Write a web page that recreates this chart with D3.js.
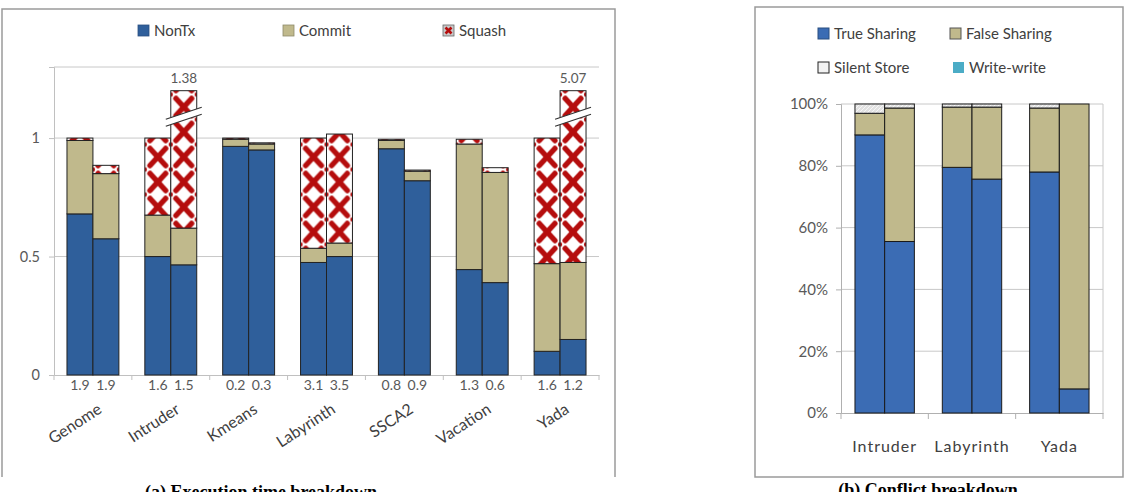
<!DOCTYPE html>
<html>
<head>
<meta charset="utf-8">
<script src="https://cdn.jsdelivr.net/npm/d3@7"></script>
<style>
  body { margin: 0; background: #fff; }
  svg { display: block; }
  text { font-family: Lato, "Open Sans", sans-serif; }
</style>
</head>
<body>
<svg id="chart" width="1125" height="492"></svg>
<script>
// ---- (a) execution time breakdown, two bars per benchmark ----
const benchA = ['Genome', 'Intruder', 'Kmeans', 'Labyrinth', 'SSCA2', 'Vacation', 'Yada'];
const nonTx  = [0.68, 0.575, 0.50, 0.465, 0.965, 0.95, 0.475, 0.50, 0.955, 0.82, 0.445, 0.39, 0.10, 0.15];
const commit = [0.31, 0.275, 0.175, 0.155, 0.03, 0.025, 0.06, 0.057, 0.035, 0.04, 0.53, 0.465, 0.37, 0.325];
const squash = [0.01, 0.035, 0.325, 0.76, 0.005, 0.005, 0.465, 0.46, 0.005, 0.005, 0.02, 0.02, 0.53, 4.595];
const barNums = ['1.9', '1.9', '1.6', '1.5', '0.2', '0.3', '3.1', '3.5', '0.8', '0.9', '1.3', '0.6', '1.6', '1.2'];
const ticksA = [0, 0.5, 1];
const seriesA = ['NonTx', 'Commit', 'Squash'];

// ---- (b) conflict breakdown ----
const benchB = ['Intruder', 'Labyrinth', 'Yada'];
const trueSh  = [0.90, 0.555, 0.795, 0.757, 0.78, 0.078];
const falseSh = [0.07, 0.432, 0.195, 0.233, 0.207, 0.922];
const silent  = [0.03, 0.013, 0.01, 0.01, 0.013, 0.0];
const wrwr    = [0, 0, 0, 0, 0, 0];
const ticksB = [0, 0.2, 0.4, 0.6, 0.8, 1];
const seriesB = ['True Sharing', 'False Sharing', 'Silent Store', 'Write-write'];

const blueA = '#2f5f9b', beige = '#c0b98c', red = '#b50d0d';
const blueB = '#3b6cb4', silentCol = '#e2e2e2', teal = '#4bacc6';

const svg = d3.select('#chart');
const defs = svg.append('defs');

// outer frames
svg.append('path')
  .attr('d', 'M2,477V9H615V477')
  .attr('fill', 'none').attr('stroke', '#9a9a9a').attr('stroke-width', 1.5);
svg.append('rect')
  .attr('x', 755).attr('y', 7).attr('width', 368).attr('height', 470)
  .attr('fill', 'none').attr('stroke', '#9a9a9a').attr('stroke-width', 1.5);

// ================= chart (a) =================
const xA = d3.scaleBand().domain(benchA).range([54, 599]).paddingInner(0).paddingOuter(0);
const yA = d3.scaleLinear().domain([0, 1.3]).range([375, 67]);
const cap = 1.2;
const barW = xA.bandwidth() / 3;

const gA = svg.append('g');
// plot top line and grid
gA.append('line').attr('x1', 54).attr('x2', 599).attr('y1', yA(1.3)).attr('y2', yA(1.3))
  .attr('stroke', '#c8c8c8');
gA.selectAll('.gridA').data(ticksA.filter(d => d > 0)).enter().append('line')
  .attr('x1', 54).attr('x2', 599)
  .attr('y1', d => yA(d)).attr('y2', d => yA(d))
  .attr('stroke', '#c8c8c8');

const axLeftA = gA.append('g').attr('transform', 'translate(54,0)')
  .call(d3.axisLeft(yA).tickValues(ticksA).tickFormat(d3.format('')).tickSize(5).tickPadding(9));
axLeftA.select('.domain').attr('stroke', '#c0c0c0');
axLeftA.selectAll('line').attr('stroke', '#c0c0c0');
axLeftA.selectAll('text').attr('fill', '#595959').style('font-size', '14.5px')
  .style('font-family', 'Lato, sans-serif');

const axBotA = gA.append('g').attr('transform', 'translate(0,375)')
  .call(d3.axisBottom(xA).tickSize(0).tickFormat(''));
axBotA.select('.domain').attr('stroke', '#c0c0c0');
gA.selectAll('.catTick').data(d3.range(benchA.length + 1)).enter().append('line')
  .attr('x1', i => 54 + i * xA.step()).attr('x2', i => 54 + i * xA.step())
  .attr('y1', 375).attr('y2', 380).attr('stroke', '#c0c0c0');

// bar records
const barsA = nonTx.map((v, i) => {
  const cat = benchA[Math.floor(i / 2)];
  const x = xA(cat) + barW / 2 + (i % 2) * barW;
  return { i, x, nonTx: v, commit: commit[i], squash: squash[i],
           total: v + commit[i] + squash[i], num: barNums[i] };
});

// squash patterns, one per bar so the crosses line up with each bar
barsA.forEach(b => {
  const p = defs.append('pattern').attr('id', 'sq' + b.i)
    .attr('patternUnits', 'userSpaceOnUse')
    .attr('x', b.x).attr('y', -5.5).attr('width', barW).attr('height', 25);
  p.append('rect').attr('width', barW).attr('height', 25).attr('fill', '#fff');
  p.append('path')
    .attr('d', `M${barW * 0.2},4L${barW * 0.8},21M${barW * 0.8},4L${barW * 0.2},21`)
    .attr('stroke', red).attr('stroke-width', 5.5).attr('stroke-linecap', 'round');
  p.append('circle').attr('cx', 0).attr('cy', 0).attr('r', 2.2).attr('fill', red);
  p.append('circle').attr('cx', barW).attr('cy', 0).attr('r', 2.2).attr('fill', red);
  p.append('circle').attr('cx', 0).attr('cy', 25).attr('r', 2.2).attr('fill', red);
  p.append('circle').attr('cx', barW).attr('cy', 25).attr('r', 2.2).attr('fill', red);
});

const clampA = v => Math.min(v, cap);
const segsA = [];
barsA.forEach(b => {
  const s0 = 0, s1 = b.nonTx, s2 = s1 + b.commit, s3 = b.total;
  segsA.push({ b, lo: s0, hi: s1, fill: blueA });
  segsA.push({ b, lo: s1, hi: s2, fill: beige });
  segsA.push({ b, lo: s2, hi: s3, fill: `url(#sq${b.i})` });
});
gA.selectAll('.segA').data(segsA).enter().append('rect')
  .attr('x', d => d.b.x)
  .attr('width', barW)
  .attr('y', d => yA(clampA(d.hi)))
  .attr('height', d => Math.max(0, yA(clampA(d.lo)) - yA(clampA(d.hi))))
  .attr('fill', d => d.fill)
  .attr('stroke', '#222')
  .attr('stroke-width', 1);

// break marks on truncated bars
const broken = barsA.filter(b => b.total > cap);
broken.forEach(b => {
  const yc = yA(1.09), x0 = b.x - 5, x1 = b.x + barW + 5, tilt = 6, th = 3.5;
  gA.append('path')
    .attr('d', `M${x0},${yc + tilt - th}L${x1},${yc - tilt - th}L${x1},${yc - tilt + th}L${x0},${yc + tilt + th}Z`)
    .attr('fill', '#fff');
  gA.append('path')
    .attr('d', `M${x0},${yc + tilt - th}L${x1},${yc - tilt - th}M${x0},${yc + tilt + th}L${x1},${yc - tilt + th}`)
    .attr('stroke', '#333').attr('stroke-width', 1.2).attr('fill', 'none');
});
gA.selectAll('.brokenLbl').data(broken).enter().append('text')
  .attr('x', d => d.x + barW / 2).attr('y', yA(cap) - 8)
  .attr('text-anchor', 'middle').attr('fill', '#595959').style('font-size', '13.5px')
  .text(d => d3.format('.2f')(d.total));

// numbers under bars
gA.selectAll('.numA').data(barsA).enter().append('text')
  .attr('x', d => d.x + barW / 2).attr('y', 390)
  .attr('text-anchor', 'middle').attr('fill', '#595959').style('font-size', '14px')
  .text(d => d.num);

// rotated benchmark names
gA.selectAll('.catA').data(benchA).enter().append('text')
  .attr('transform', d => `translate(${xA(d) + xA.bandwidth() / 2 + 10},412) rotate(-33)`)
  .attr('text-anchor', 'end').attr('fill', '#404040').style('font-size', '16px')
  .text(d => d);

// legend (a)
const legA = gA.selectAll('.legA').data(seriesA).enter().append('g')
  .attr('transform', (d, i) => `translate(${[138, 283, 443][i]},25)`);
legA.append('rect').attr('width', 11).attr('height', 11)
  .attr('fill', (d, i) => [blueA, beige, '#c8c8c8'][i])
  .attr('stroke', (d, i) => ['#2a4f80', '#8e8a6a', '#666'][i]).attr('stroke-width', 0.8);
legA.filter((d, i) => i === 2).append('path')
  .attr('d', 'M2.5,2.5L8.5,8.5M8.5,2.5L2.5,8.5')
  .attr('stroke', red).attr('stroke-width', 2.6);
legA.append('text').attr('x', 16).attr('y', 11).attr('fill', '#404040')
  .style('font-size', '15px').text(d => d);

// ================= chart (b) =================
const xB = d3.scaleBand().domain(benchB).range([841, 1103]);
const yB = d3.scaleLinear().domain([0, 1]).range([413, 104]);
const barWB = xB.bandwidth() * 0.34;
const gB = svg.append('g');

gB.selectAll('.gridB').data(ticksB.filter(d => d > 0)).enter().append('line')
  .attr('x1', 841).attr('x2', 1103)
  .attr('y1', d => yB(d)).attr('y2', d => yB(d))
  .attr('stroke', '#c8c8c8');
gB.append('line').attr('x1', 1103).attr('x2', 1103).attr('y1', yB(1)).attr('y2', yB(0))
  .attr('stroke', '#c8c8c8');

const axLeftB = gB.append('g').attr('transform', 'translate(841,0)')
  .call(d3.axisLeft(yB).tickValues(ticksB).tickFormat(d3.format('.0%')).tickSize(5).tickPadding(8));
axLeftB.select('.domain').attr('stroke', '#b0b0b0');
axLeftB.selectAll('line').attr('stroke', '#b0b0b0');
axLeftB.selectAll('text').attr('fill', '#595959').style('font-size', '15px')
  .style('font-family', 'Lato, sans-serif');

const axBotB = gB.append('g').attr('transform', 'translate(0,413)')
  .call(d3.axisBottom(xB).tickSize(0).tickFormat(''));
axBotB.select('.domain').attr('stroke', '#b0b0b0');
gB.selectAll('.catTickB').data(d3.range(benchB.length + 1)).enter().append('line')
  .attr('x1', i => 841 + i * xB.step()).attr('x2', i => 841 + i * xB.step())
  .attr('y1', 413).attr('y2', 419).attr('stroke', '#b0b0b0');

defs.append('pattern').attr('id', 'silentPat').attr('patternUnits', 'userSpaceOnUse')
  .attr('width', 4).attr('height', 4)
  .call(p => {
    p.append('rect').attr('width', 4).attr('height', 4).attr('fill', silentCol);
    p.append('path').attr('d', 'M0,4L4,0').attr('stroke', '#f7f7f7').attr('stroke-width', 1);
  });

const segsB = [];
trueSh.forEach((v, i) => {
  const cat = benchB[Math.floor(i / 2)];
  const x = xB(cat) + xB.bandwidth() / 2 - barWB + (i % 2) * barWB;
  const vals = [v, falseSh[i], silent[i], wrwr[i]];
  const fills = [blueB, beige, 'url(#silentPat)', teal];
  let acc = 0;
  vals.forEach((s, k) => {
    if (s > 0) segsB.push({ x, lo: acc, hi: acc + s, fill: fills[k] });
    acc += s;
  });
});
gB.selectAll('.segB').data(segsB).enter().append('rect')
  .attr('x', d => d.x).attr('width', barWB)
  .attr('y', d => yB(Math.min(1, d.hi)))
  .attr('height', d => yB(d.lo) - yB(Math.min(1, d.hi)))
  .attr('fill', d => d.fill)
  .attr('stroke', '#1a1a1a').attr('stroke-width', 1);

gB.selectAll('.catB').data(benchB).enter().append('text')
  .attr('x', d => xB(d) + xB.bandwidth() / 2).attr('y', 452)
  .attr('text-anchor', 'middle').attr('fill', '#404040')
  .style('font-size', '16px').style('letter-spacing', '1px')
  .text(d => d);

// legend (b)
const legPos = [[818, 28], [950, 28], [818, 62], [953, 62]];
const legB = gB.selectAll('.legB').data(seriesB).enter().append('g')
  .attr('transform', (d, i) => `translate(${legPos[i][0]},${legPos[i][1]})`);
legB.append('rect').attr('width', 11).attr('height', 11)
  .attr('fill', (d, i) => [blueB, beige, '#f2f2f2', teal][i])
  .attr('stroke', (d, i) => ['#2a4f80', '#555', '#222', 'none'][i]).attr('stroke-width', 1);
legB.append('text').attr('x', 16).attr('y', 11).attr('fill', '#404040')
  .style('font-size', '15px').text(d => d);

// captions (partly cut by the picture edge, as in the source figure)
svg.append('text').attr('x', 261).attr('y', 498).attr('text-anchor', 'middle')
  .style('font-family', '"Liberation Serif", serif').style('font-weight', 'bold')
  .style('font-size', '18px').text('(a) Execution time breakdown');
svg.append('text').attr('x', 928).attr('y', 496).attr('text-anchor', 'middle')
  .style('font-family', '"Liberation Serif", serif').style('font-weight', 'bold')
  .style('font-size', '18px').text('(b) Conflict breakdown');
</script>
</body>
</html>
